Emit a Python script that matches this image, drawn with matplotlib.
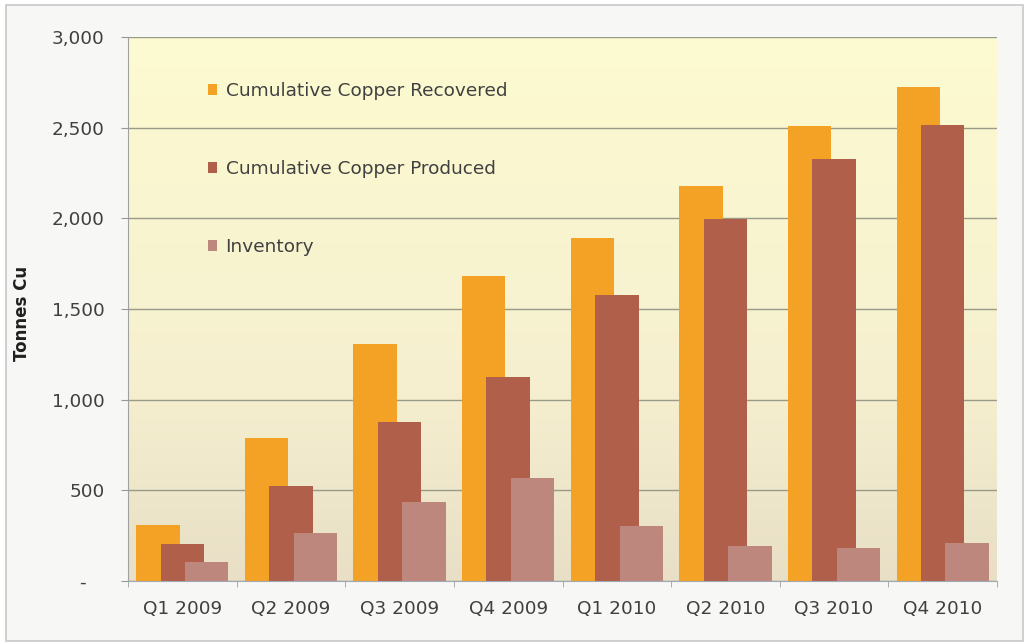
import matplotlib
matplotlib.use("Agg")
import matplotlib.pyplot as plt
import numpy as np
from matplotlib.patches import Rectangle, Patch
from matplotlib.colors import LinearSegmentedColormap
from matplotlib.ticker import FuncFormatter, FixedLocator

quarters = ["Q1 2009", "Q2 2009", "Q3 2009", "Q4 2009",
            "Q1 2010", "Q2 2010", "Q3 2010", "Q4 2010"]
recovered = [310, 790, 1307, 1682, 1892, 2179, 2510, 2722]
produced = [204, 524, 877, 1125, 1577, 1997, 2328, 2515]
inventory = [105, 265, 436, 568, 303, 193, 182, 210]
series_names = ["Cumulative Copper Recovered", "Cumulative Copper Produced", "Inventory"]
colors = ["#F4A225", "#B0604A", "#BE877D"]

fig = plt.figure(figsize=(10.30, 6.43), dpi=100)
fig.patch.set_facecolor("white")
# outer frame
fig.patches.append(Rectangle((6/1030, 2/643), 1017/1030, 636/643, transform=fig.transFigure,
                             facecolor="#f7f7f6", edgecolor="#c8c8c8", linewidth=1.2, zorder=-10))

ax = fig.add_axes([128/1030, 1-581/643, (997-128)/1030, (581-37)/643])
ax.set_facecolor("none")

# background gradient
cmap = LinearSegmentedColormap.from_list("bg", [(0.0, "#e8dfc6"), (0.35, "#f5efcf"), (1.0, "#fdfbd1")])
grad = np.linspace(0, 1, 256).reshape(-1, 1)
n = len(quarters)
ax.imshow(grad, aspect="auto", cmap=cmap, origin="lower",
          extent=(-0.5, n-0.5, 0, 3000), zorder=0)

x = np.arange(n)
w = 0.40
offs = [-0.225, 0.0, 0.225]
for vals, off, c, name, z in zip([recovered, produced, inventory], offs, colors, series_names, [3, 4, 5]):
    ax.bar(x + off, vals, width=w, color=c, label=name, zorder=z, linewidth=0)

ax.set_xlim(-0.5, n-0.5)
ax.set_ylim(0, 3000)
ax.yaxis.set_major_locator(FixedLocator([0, 500, 1000, 1500, 2000, 2500, 3000]))
ax.yaxis.set_major_formatter(FuncFormatter(lambda v, p: "-   " if v == 0 else f"{int(v):,}"))
ax.grid(axis="y", color="#9a9a88", linewidth=1.0, zorder=1)
ax.set_axisbelow(False)
for gl in ax.get_ygridlines():
    gl.set_zorder(1)

ax.set_xticks(x)
ax.set_xticklabels(quarters)
ax.set_xticks(np.arange(-0.5, n, 1.0), minor=True)
ax.tick_params(axis="x", which="major", length=0, pad=14, labelsize=13.3, labelcolor="#404040")
ax.tick_params(axis="x", which="minor", length=4, color="#9aa0a8", direction="out")
ax.tick_params(axis="y", length=5, color="#9a9a88", labelsize=13.3, labelcolor="#404040", pad=12)

for s in ["top", "right"]:
    ax.spines[s].set_visible(False)
ax.spines["left"].set_color("#a0a0a0")
ax.spines["bottom"].set_color("#a0a8b0")
ax.spines["left"].set_zorder(6)
ax.spines["bottom"].set_zorder(6)

fig.text(22/1030, 1-313/643, "Tonnes Cu", rotation=90, ha="center", va="center",
         fontsize=12, fontweight="bold", color="#202020")

handles = [Patch(facecolor=c, edgecolor="none") for c in colors]
leg = ax.legend(handles, series_names, loc="upper left", bbox_to_anchor=(208/1030, 1-82/643),
                bbox_transform=fig.transFigure, frameon=False, fontsize=13.3,
                handlelength=0.5, handleheight=0.5, handletextpad=0.45,
                labelspacing=3.25, borderpad=0, borderaxespad=0)
for t in leg.get_texts():
    t.set_color("#404040")

fig.savefig("out.png", dpi=100)
